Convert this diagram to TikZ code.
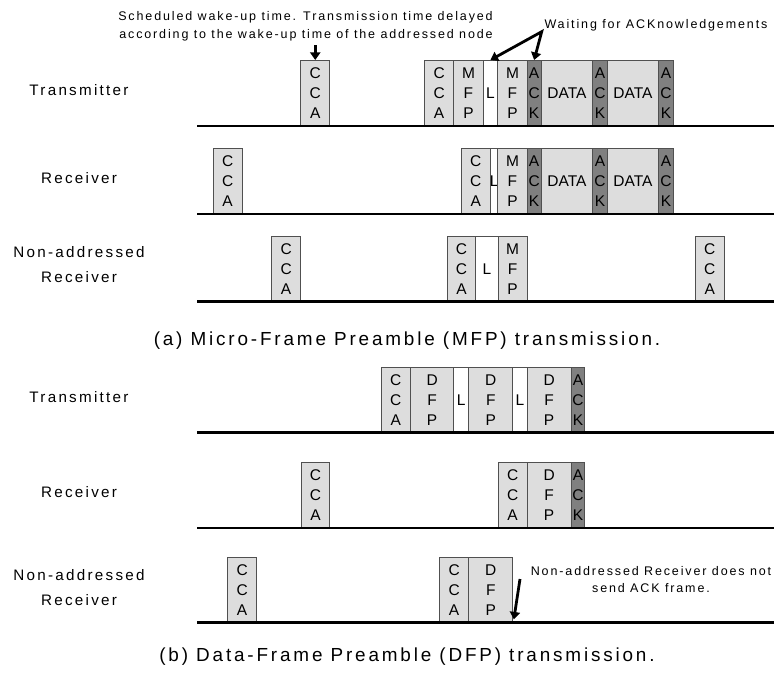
\documentclass[tikz,border=0pt]{standalone}
\usepackage{fontspec}
\setmainfont{Liberation Sans}[LetterSpace=15]
\newfontfamily\plainsans{Liberation Sans}
\usetikzlibrary{arrows.meta}
\definecolor{boxfill}{RGB}{221,221,221}
\definecolor{ackfill}{RGB}{128,128,128}
\definecolor{boxline}{RGB}{80,80,80}
\newcommand\boxfnt{\plainsans\fontsize{15.5bp}{20bp}\selectfont}
\newcommand\labfnt{\fontsize{15.2bp}{25bp}\selectfont}
\newcommand\notefnt{\fontsize{12.5bp}{18.3bp}\selectfont}
\newcommand\capfnt{\fontsize{18.9bp}{22bp}\selectfont}
% style, name, left, right, top, text
\newcommand\slot[6]{%
  \pgfmathsetmacro\slotw{#4-#3}%
  \node[#1, minimum width=\slotw bp, anchor=north west] (#2) at (#3,#5) {#6};}
\tikzset{
  slotbox/.style={draw=boxline, line width=0.9bp, fill=boxfill, inner sep=0pt,
    minimum height=66bp, align=center, font=\boxfnt, text=black},
  ackbox/.style={slotbox, fill=ackfill},
  gapbox/.style={slotbox, fill=white},
  tline/.style={line width=2.5bp, black},
  bigarr/.style={line width=2.8bp, -{Triangle[length=7.5bp,width=10bp]}},
  rowlab/.style={font=\labfnt, inner sep=0pt, anchor=base},
  notetext/.style={font=\notefnt, inner sep=0pt, anchor=base},
  captext/.style={font=\capfnt, inner sep=0pt, anchor=base},
}
\begin{document}
\begin{tikzpicture}[x=1bp,y=-1bp]
\fill[white] (0,0) rectangle (774,682);
\useasboundingbox (0,0) rectangle (774,682);

% ---------- (a) ----------
% Transmitter
\slot{slotbox}{ta1}{300.3}{329.3}{60}{C\\C\\A}
\slot{slotbox}{ta2}{424}{453.3}{60}{C\\C\\A}
\slot{slotbox}{ta3}{453.3}{482.7}{60}{M\\F\\P}
\slot{gapbox}{ta4}{482.7}{497.3}{60}{L}
\slot{slotbox}{ta5}{497.3}{526.7}{60}{M\\F\\P}
\slot{ackbox}{ta6}{526.7}{540.7}{60}{A\\C\\K}
\slot{slotbox}{ta7}{540.7}{592.3}{60}{DATA}
\slot{ackbox}{ta8}{592.3}{606.7}{60}{A\\C\\K}
\slot{slotbox}{ta9}{606.7}{658.3}{60}{DATA}
\slot{ackbox}{ta10}{658.3}{672.7}{60}{A\\C\\K}
% Receiver
\slot{slotbox}{ra1}{212.7}{241.7}{148}{C\\C\\A}
\slot{slotbox}{ra2}{460.7}{490}{148}{C\\C\\A}
\slot{gapbox}{ra3}{490}{497.3}{148}{\makebox[0pt]{L}}
\slot{slotbox}{ra4}{497.3}{526.7}{148}{M\\F\\P}
\slot{ackbox}{ra5}{526.7}{540.7}{148}{A\\C\\K}
\slot{slotbox}{ra6}{540.7}{592.3}{148}{DATA}
\slot{ackbox}{ra7}{592.3}{606.7}{148}{A\\C\\K}
\slot{slotbox}{ra8}{606.7}{658.3}{148}{DATA}
\slot{ackbox}{ra9}{658.3}{672.7}{148}{A\\C\\K}
% Non-addressed receiver
\slot{slotbox}{na1}{271}{300.3}{235.5}{C\\C\\A}
\slot{slotbox}{na2}{446.7}{475.3}{235.5}{C\\C\\A}
\slot{gapbox}{na3}{475.3}{497.5}{235.5}{L}
\slot{slotbox}{na4}{497.5}{526.7}{235.5}{M\\F\\P}
\slot{slotbox}{na5}{694.5}{724}{235.5}{C\\C\\A}

% ---------- (b) ----------
\slot{slotbox}{tb1}{380.7}{410}{366.5}{C\\C\\A}
\slot{slotbox}{tb2}{410}{453.3}{366.5}{D\\F\\P}
\slot{gapbox}{tb3}{453.3}{468.3}{366.5}{L}
\slot{slotbox}{tb4}{468.3}{512.3}{366.5}{D\\F\\P}
\slot{gapbox}{tb5}{512.3}{526.7}{366.5}{L}
\slot{slotbox}{tb6}{526.7}{570.7}{366.5}{D\\F\\P}
\slot{ackbox}{tb7}{570.7}{584.3}{366.5}{A\\C\\K}
\slot{slotbox}{rb1}{300.7}{329.3}{462}{C\\C\\A}
\slot{slotbox}{rb2}{497.7}{526.7}{462}{C\\C\\A}
\slot{slotbox}{rb3}{526.7}{570.7}{462}{D\\F\\P}
\slot{ackbox}{rb4}{570.7}{584.3}{462}{A\\C\\K}
\slot{slotbox}{nb1}{227}{256.3}{556.5}{C\\C\\A}
\slot{slotbox}{nb2}{439}{468.3}{556.5}{C\\C\\A}
\slot{slotbox}{nb3}{468.3}{512.3}{556.5}{D\\F\\P}

% time lines
\foreach \yy/\nm in {126/la, 214/lb, 301.5/lc, 432.5/ld, 528/le, 622.5/lf}{
  \coordinate (\nm0) at (197,\yy);
  \coordinate (\nm1) at (774,\yy);
  \draw[tline] (\nm0) -- (\nm1);
}

% row labels
\node[rowlab] (lta) at (79,95.5) {Transmitter};
\node[rowlab] (lra) at (79,183.5) {Receiver};
\node[rowlab] (lna1) at (79,257) {Non-addressed};
\node[rowlab] (lna2) at (79,282) {Receiver};
\node[rowlab] (ltb) at (79,402) {Transmitter};
\node[rowlab] (lrb) at (79,497.5) {Receiver};
\node[rowlab] (lnb1) at (79,580) {Non-addressed};
\node[rowlab] (lnb2) at (79,605) {Receiver};

% annotations
\node[notetext] (ann1) at (305.5,20.5) {Scheduled wake-up time. Transmission time delayed};
\node[notetext] (ann2) at (306,38.8) {according to the wake-up time of the addressed node};
\node[notetext, anchor=base west] (wait) at (544.3,28.3) {Waiting for ACKnowledgements};
\node[notetext] (nbt1) at (651,575.5) {Non-addressed Receiver does not};
\node[notetext] (nbt2) at (651,592) {send ACK frame.};

% captions
\node[captext] (capa) at (407,345) {(a) Micro-Frame Preamble (MFP) transmission.};
\node[captext] (capb) at (407,661) {(b) Data-Frame Preamble (DFP) transmission.};

% arrows
\draw[bigarr, shorten <=3.5bp] (ta1.north |- ann2.south) -- (ta1.north);
\coordinate (wapex) at (541.7,31.7);
\draw[line width=2.8bp, line join=miter,
  {Triangle[length=7.5bp,width=10bp]}-{Triangle[length=7.5bp,width=10bp]}]
  (ta4.north) -- (wapex) -- (ta6.north);
\coordinate (nbstart) at (520,579);
\draw[bigarr, shorten >=4bp] (nbstart) -- (nb3.south east);
\end{tikzpicture}
\end{document}
